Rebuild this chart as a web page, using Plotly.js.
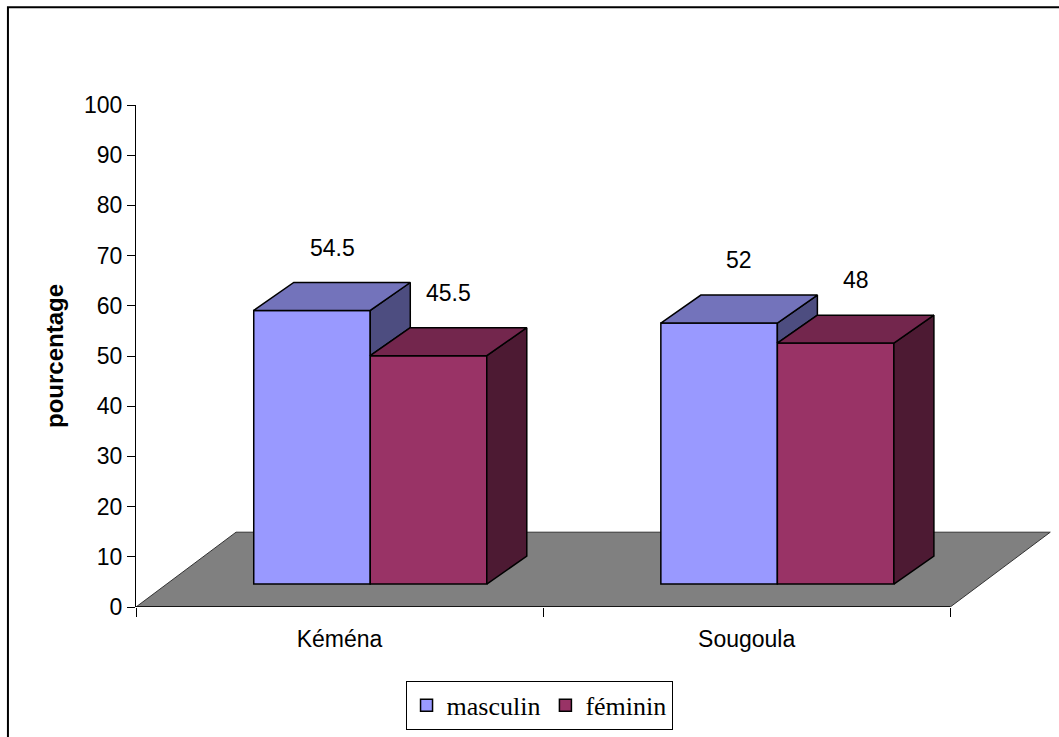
<!DOCTYPE html>
<html>
<head>
<meta charset="utf-8">
<script src="https://cdn.plot.ly/plotly-3.0.1.min.js"></script>
<style>html,body{margin:0;padding:0;background:#fff;}#chart{width:1059px;height:737px;}</style>
</head>
<body>
<div id="chart"></div>
<script>
// ---- data ----
var categories = ['Kéména', 'Sougoula'];
var seriesNames = ['masculin', 'féminin'];
var masculin = [54.5, 52];
var feminin = [45.5, 48];
var yTicks = [0, 10, 20, 30, 40, 50, 60, 70, 80, 90, 100];

// ---- style / 3D geometry (axis units) ----
var frontColors = ['#9999FF', '#993366'];
var topColors = ['#7373BB', '#73264D'];
var sideColors = ['#4D4D80', '#4D1A33'];
var floorDX = 0.2457, floorDY = 14.9;   // depth of the floor
var shiftX = 0.0754, baseY = 4.57;      // bar front plane offset from the floor front
var barW = 0.2862;                      // bar width
var barDX = 0.0983, barDY = 5.57;       // bar depth

var series = [masculin, feminin];
var catPos = categories.map(function (c, i) { return i + 0.5; });

var traces = [];
// front faces as bars
series.forEach(function (vals, s) {
  traces.push({
    type: 'bar',
    name: seriesNames[s],
    x: catPos,
    y: vals,
    base: vals.map(function () { return baseY; }),
    offset: shiftX + (s === 0 ? -barW : 0),
    width: barW,
    marker: { color: frontColors[s], line: { color: '#000', width: 1.5 } },
    hoverinfo: 'skip'
  });
});

function poly(pts, color) {
  var xs = pts.map(function (p) { return p[0]; });
  var ys = pts.map(function (p) { return p[1]; });
  xs.push(pts[0][0]); ys.push(pts[0][1]);
  return {
    type: 'scatter', mode: 'lines', x: xs, y: ys, fill: 'toself',
    fillcolor: color, line: { color: '#000', width: 1.5 },
    showlegend: false, hoverinfo: 'skip'
  };
}

var annotations = [];
catPos.forEach(function (cx, i) {
  series.forEach(function (vals, s) {
    var x0 = cx + shiftX + (s === 0 ? -barW : 0);
    var x1 = x0 + barW;
    var yb = baseY, yt = baseY + vals[i];
    // side face (clipped by the neighbour to the right when it is shorter)
    var lowY = yb;
    if (s < series.length - 1) {
      var nt = baseY + series[s + 1][i];
      if (nt >= yt) { lowY = null; } else { lowY = nt; }
    }
    if (lowY !== null) {
      traces.push(poly([[x1, lowY], [x1, yt], [x1 + barDX, yt + barDY], [x1 + barDX, lowY + barDY]], sideColors[s]));
    }
    // top face
    traces.push(poly([[x0, yt], [x1, yt], [x1 + barDX, yt + barDY], [x0 + barDX, yt + barDY]], topColors[s]));
    annotations.push({
      x: (x0 + x1) / 2 + barDX / 2, y: yt + barDY, xref: 'x', yref: 'y',
      text: String(vals[i]), showarrow: false, yshift: 35,
      font: { family: 'Liberation Sans, Arial, sans-serif', size: 23, color: '#000' }
    });
  });
});

var shapes = [
  // floor
  {
    type: 'path', layer: 'below', xref: 'x', yref: 'y',
    path: 'M0,0 L2,0 L' + (2 + floorDX) + ',' + floorDY + ' L' + floorDX + ',' + floorDY + ' Z',
    fillcolor: '#808080', line: { color: '#333', width: 1 }
  },
  // x axis line (floor front edge)
  { type: 'line', layer: 'above', xref: 'x', yref: 'y', x0: 0, x1: 2, y0: 0, y1: 0, line: { color: '#000', width: 1.5 } },
  // outer chart border
  { type: 'rect', xref: 'paper', yref: 'paper', x0: -0.1398, x1: 1.01, y0: -0.27, y1: 1.1948, line: { color: '#000', width: 2 }, fillcolor: 'rgba(0,0,0,0)' }
];

var layout = {
  width: 1059, height: 737,
  margin: { l: 136, r: 7, t: 105, b: 127 },
  paper_bgcolor: '#fff', plot_bgcolor: '#fff',
  font: { family: 'Liberation Sans, Arial, sans-serif', size: 23, color: '#000' },
  barmode: 'overlay',
  showlegend: true,
  legend: {
    orientation: 'h', x: 0.44, xanchor: 'center', y: -0.147, yanchor: 'top',
    bordercolor: '#000', borderwidth: 1, bgcolor: '#fff',
    font: { family: 'Liberation Serif, Times New Roman, serif', size: 26, color: '#000' },
    traceorder: 'normal'
  },
  xaxis: {
    range: [0, 2.25], showline: false, showgrid: false, zeroline: false, fixedrange: true,
    tickmode: 'array', tickvals: catPos, ticktext: categories, ticks: '',
    ticklabelstandoff: 16,
    tickfont: { size: 23, color: '#000' },
    minor: { tickmode: 'array', tickvals: [0, 1, 2], ticks: 'outside', ticklen: 9, tickcolor: '#000', tickwidth: 1, showgrid: false }
  },
  yaxis: {
    range: [0, 100], tickmode: 'array', tickvals: yTicks, ticktext: yTicks.map(String),
    showline: true, linecolor: '#000', linewidth: 1, showgrid: false, zeroline: false,
    ticks: 'outside', ticklen: 8, tickcolor: '#000', tickwidth: 1, fixedrange: true,
    tickfont: { size: 23, color: '#000' },
    title: { text: 'pourcentage', standoff: 13, font: { size: 24, weight: 'bold', color: '#000' } }
  },
  shapes: shapes,
  annotations: annotations
};

Plotly.newPlot('chart', traces, layout, { displayModeBar: false, staticPlot: true });
</script>
</body>
</html>
